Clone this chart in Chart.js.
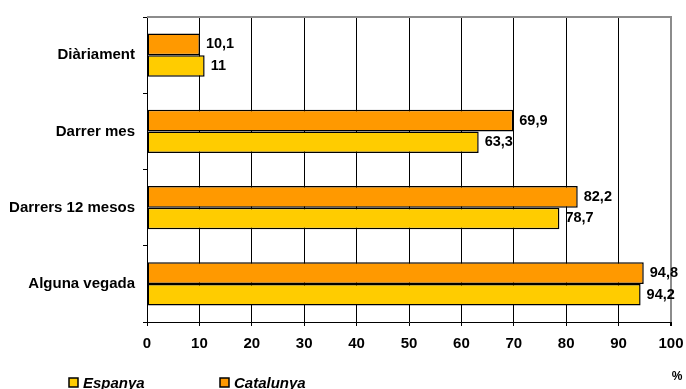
<!DOCTYPE html>
<html>
<head>
<meta charset="utf-8">
<script src="https://cdn.jsdelivr.net/npm/chart.js@4"></script>
<style>
  html, body { margin: 0; padding: 0; background: #fff; }
  #wrap { width: 686px; height: 389px; }
</style>
</head>
<body>
<div id="wrap"><canvas id="chartConsum" width="686" height="389"></canvas></div>
<script>
// data
const categories = ["Diàriament", "Darrer mes", "Darrers 12 mesos", "Alguna vegada"];
const catalunya = [10.1, 69.9, 82.2, 94.8];
const espanya = [11, 63.3, 78.7, 94.2];
const xTicks = [0, 10, 20, 30, 40, 50, 60, 70, 80, 90, 100];

const FONT = "'Liberation Sans', Arial, sans-serif";

const fmt = (v) => String(v).replace(".", ",");

// value labels at bar ends + legend + "%" note
const extras = {
  id: "extras",
  afterDatasetsDraw(chart) {
    const ctx = chart.ctx;
    ctx.save();
    ctx.font = "bold 14.5px " + FONT;
    ctx.fillStyle = "#000";
    ctx.textBaseline = "middle";
    ctx.textAlign = "left";
    chart.data.datasets.forEach((ds, i) => {
      chart.getDatasetMeta(i).data.forEach((bar, j) => {
        ctx.fillText(fmt(ds.data[j]), bar.x + 6, bar.y);
      });
    });

    // top border of plot
    const a = chart.chartArea;
    ctx.strokeStyle = "#8c8c8c";
    ctx.lineWidth = 2;
    ctx.beginPath();
    ctx.moveTo(a.left, a.top);
    ctx.lineTo(a.right + 1, a.top);
    ctx.stroke();

    // "%" under the axis end
    ctx.font = "bold 12px " + FONT;
    ctx.textAlign = "center";
    ctx.fillText("%", 677, 377);

    // legend: Espanya first, then Catalunya
    const order = [1, 0];
    const xs = [69, 220];
    ctx.font = "italic bold 15px " + FONT;
    ctx.textAlign = "left";
    ctx.textBaseline = "alphabetic";
    order.forEach((di, k) => {
      const ds = chart.data.datasets[di];
      ctx.fillStyle = ds.backgroundColor;
      ctx.fillRect(xs[k], 378, 9, 9);
      ctx.strokeStyle = "#000";
      ctx.lineWidth = 1.5;
      ctx.strokeRect(xs[k], 378, 9, 9);
      ctx.fillStyle = "#000";
      ctx.fillText(ds.label, xs[k] + 14, 388);
    });
    ctx.restore();
  },
};

const chartConsum = document.getElementById("chartConsum");
new Chart(chartConsum, {
  type: "bar",
  data: {
    labels: categories,
    datasets: [
      {
        label: "Catalunya",
        data: catalunya,
        backgroundColor: "#FF9900",
        borderColor: "#000",
        borderWidth: 1.5,
        borderSkipped: false,
      },
      {
        label: "Espanya",
        data: espanya,
        backgroundColor: "#FFCC00",
        borderColor: "#000",
        borderWidth: 1.5,
        borderSkipped: false,
      },
    ],
  },
  options: {
    indexAxis: "y",
    responsive: false,
    animation: false,
    layout: { padding: { top: 16, right: 15, left: 0, bottom: 0 } },
    datasets: { bar: { categoryPercentage: 0.57, barPercentage: 1.0 } },
    plugins: {
      legend: { display: false },
      title: { display: false },
      tooltip: { enabled: false },
    },
    scales: {
      x: {
        min: 0,
        max: 100,
        afterBuildTicks(scale) {
          scale.ticks = xTicks.map((v) => ({ value: v }));
        },
        afterFit(scale) {
          scale.height = 67;
          scale.paddingRight = 0;
          scale.paddingLeft = 0;
        },
        border: { color: "#000", width: 1 },
        grid: {
          color: (c) => (c.tick && c.tick.value === 100 ? "#8c8c8c" : "#000"),
          lineWidth: (c) => (c.tick && c.tick.value === 100 ? 2 : 1),
          tickColor: "#000",
          tickLength: 4,
        },
        ticks: {
          color: "#000",
          padding: 9,
          font: { family: FONT, size: 15, weight: "bold" },
        },
      },
      y: {
        afterFit(scale) {
          scale.width = 147;
        },
        border: { color: "#000", width: 1 },
        grid: {
          offset: true,
          drawOnChartArea: false,
          tickColor: "#000",
          tickLength: 4,
        },
        ticks: {
          color: "#000",
          padding: 8,
          font: { family: FONT, size: 15, weight: "bold" },
        },
      },
    },
  },
  plugins: [extras],
});
</script>
</body>
</html>
